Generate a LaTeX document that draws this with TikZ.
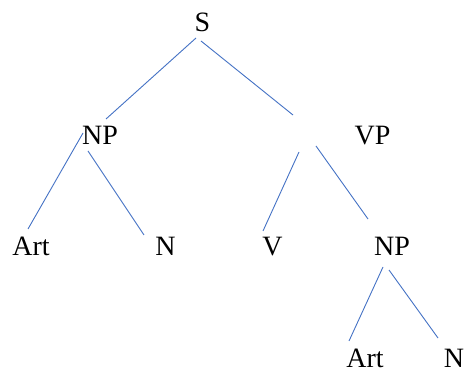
\documentclass[tikz,border=0pt]{standalone}
\usepackage{fontspec}
\setmainfont{Liberation Serif}
\begin{document}
\begin{tikzpicture}[x=1pt,y=-1pt,
  lbl/.style={anchor=base,inner sep=0pt,font=\fontsize{28}{34}\selectfont},
  edge/.style={draw={rgb,255:red,68;green,114;blue,196},line width=0.9pt}]
\useasboundingbox (0,0) rectangle (466,371);
\node[lbl] (S) at (202.5,32) {S};
\node[lbl] (NP) at (100,145) {NP};
\node[lbl] (VP) at (372.5,145) {VP};
\node[lbl] (Art) at (31,256) {Art};
\node[lbl] (N) at (165.5,256) {N};
\node[lbl] (V) at (272.5,256) {V};
\node[lbl] (NPb) at (392,256) {NP};
\node[lbl] (Artb) at (365,367.5) {Art};
\node[lbl] (Nb) at (454,367.5) {N};
% line end points
\coordinate (a1) at (196,38);  \coordinate (a2) at (106,119);
\coordinate (b1) at (201,41);  \coordinate (b2) at (293,115);
\coordinate (c1) at (83,133);  \coordinate (c2) at (28,229);
\coordinate (d1) at (88,151);  \coordinate (d2) at (144,235);
\coordinate (e1) at (299,152); \coordinate (e2) at (263,231);
\coordinate (f1) at (316,146); \coordinate (f2) at (368,219);
\coordinate (g1) at (383,267); \coordinate (g2) at (349,341);
\coordinate (h1) at (389,270); \coordinate (h2) at (438,338);
\draw[edge] (a1) -- (a2);
\draw[edge] (b1) -- (b2);
\draw[edge] (c1) -- (c2);
\draw[edge] (d1) -- (d2);
\draw[edge] (e1) -- (e2);
\draw[edge] (f1) -- (f2);
\draw[edge] (g1) -- (g2);
\draw[edge] (h1) -- (h2);
\end{tikzpicture}
\end{document}
